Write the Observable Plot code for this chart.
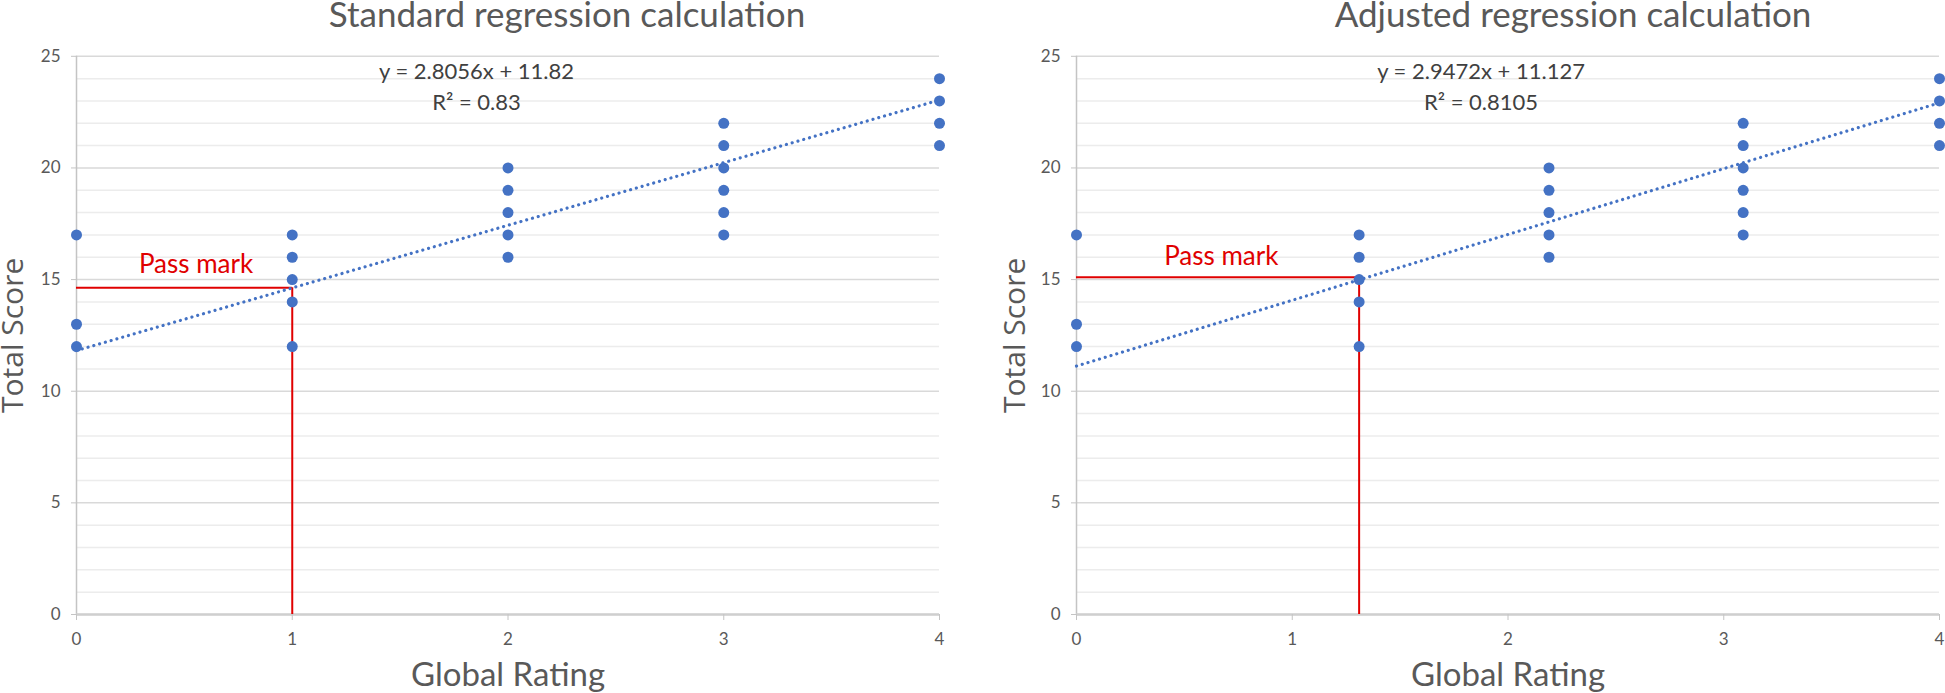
<!DOCTYPE html>
<html><head><meta charset="utf-8">
<script src="https://cdn.jsdelivr.net/npm/d3@7"></script>
<script src="https://cdn.jsdelivr.net/npm/@observablehq/plot@0.6"></script>
<style>
body{margin:0;background:#fff;width:1945px;height:693px;overflow:hidden;position:relative;font-family:Lato,sans-serif}
.panel{position:absolute;top:0;height:693px}
.title{position:absolute;top:0;width:700px;text-align:center;font-family:Lato;font-size:35px;color:#595959;line-height:26px;white-space:nowrap}
.panel svg{position:absolute;top:45px;left:0;overflow:visible}
g[aria-label="y-axis label"] text{font-family:"Open Sans";font-size:30px}
g[aria-label="x-axis label"] text{font-family:Lato;font-size:33px}
</style></head><body>
<div id="p1" class="panel" style="left:0;width:972px"><div class="title" style="left:217px">Standard regression calculation</div></div>
<div id="p2" class="panel" style="left:972px;width:973px"><div class="title" style="left:251px">Adjusted regression calculation</div></div>
<script>
// ---- data ----
const xTicks = [0, 1, 2, 3, 4];
const yMajorTicks = [0, 5, 10, 15, 20, 25];
const yMinorTicks = [1,2,3,4,6,7,8,9,11,12,13,14,16,17,18,19,21,22,23,24];

const standardRating = [0,0,0, 1,1,1,1,1, 2,2,2,2,2, 3,3,3,3,3,3, 4,4,4,4];
const standardScore  = [17,13,12, 17,16,15,14,12, 20,19,18,17,16, 22,21,20,19,18,17, 24,23,22,21];
const adjustedRating = [0,0,0, 1.31,1.31,1.31,1.31,1.31, 2.19,2.19,2.19,2.19,2.19, 3.09,3.09,3.09,3.09,3.09,3.09, 4,4,4,4];
const adjustedScore  = [17,13,12, 17,16,15,14,12, 20,19,18,17,16, 22,21,20,19,18,17, 24,23,22,21];

const standardSlope = 2.8056, standardIntercept = 11.82;
const adjustedSlope = 2.9472, adjustedIntercept = 11.127;
const standardEquation = ["y = 2.8056x + 11.82", "R² = 0.83"];
const adjustedEquation = ["y = 2.9472x + 11.127", "R² = 0.8105"];
const standardPass = {x: 1, y: 14.63};
const adjustedPass = {x: 1.31, y: 15.1};
const passLabel = "Pass mark";

function panel({rating, score, slope, intercept, equation, pass, eqX, passTextX, passTextY, width, marginLeft, marginRight, yLabelOffset}) {
  const pts = rating.map((r, i) => ({x: r, y: score[i]}));
  const trend = [0, 4].map(x => ({x, y: intercept + slope * x}));
  return Plot.plot({
    width, height: 648,
    marginTop: 10.8, marginBottom: 79, marginLeft, marginRight,
    style: {fontFamily: "Lato", color: "#595959", background: "transparent", overflow: "visible"},
    x: {domain: [0, 4]},
    y: {domain: [0, 25]},
    marks: [
      Plot.ruleY(yMinorTicks, {stroke: "#ececec", strokeWidth: 1.5}),
      Plot.ruleY(yMajorTicks, {stroke: "#d9d9d9", strokeWidth: 1.5}),
      Plot.ruleX([0], {stroke: "#c4c4c4", strokeWidth: 1.5}),
      Plot.ruleY([0], {stroke: "#cfcfcf", strokeWidth: 2.5}),
      Plot.axisY({ticks: yMajorTicks, tickSize: 5, tickPadding: 11, stroke: "#c4c4c4", fontSize: 17,
        label: "Total Score", labelAnchor: "center", labelArrow: "none", labelOffset: yLabelOffset}),
      Plot.axisX({ticks: xTicks, tickFormat: "d", tickSize: 6, tickPadding: 12, stroke: "#c4c4c4", fontSize: 17,
        label: "Global Rating", labelAnchor: "center", labelArrow: "none", labelOffset: 71}),
      Plot.ruleY([pass], {y: "y", x1: 0, x2: "x", stroke: "#e00000", strokeWidth: 2}),
      Plot.ruleX([pass], {x: "x", y1: 0, y2: "y", stroke: "#e00000", strokeWidth: 2}),
      Plot.line(trend, {x: "x", y: "y", stroke: "#4472c4", strokeWidth: 3.2, strokeDasharray: "0.01 6", strokeLinecap: "round"}),
      Plot.dot(pts, {x: "x", y: "y", r: 5.5, fill: "#4472c4", stroke: null}),
      Plot.text([equation[0]], {x: eqX, y: 24.32, fontSize: 22, fill: "#404040", fontFamily: "Lato"}),
      Plot.text([equation[1]], {x: eqX, y: 22.91, fontSize: 22, fill: "#404040", fontFamily: "Lato"}),
      Plot.text([passLabel], {x: passTextX, y: passTextY, fontSize: 26, fill: "#e00000", fontFamily: "Lato"})
    ]
  });
}

document.getElementById("p1").append(panel({
  rating: standardRating, score: standardScore, slope: standardSlope, intercept: standardIntercept,
  equation: standardEquation, pass: standardPass, eqX: 1.854, passTextX: 0.554, passTextY: 15.68,
  width: 972, marginLeft: 76, marginRight: 33, yLabelOffset: 75
}));
document.getElementById("p2").append(panel({
  rating: adjustedRating, score: adjustedScore, slope: adjustedSlope, intercept: adjustedIntercept,
  equation: adjustedEquation, pass: adjustedPass, eqX: 1.875, passTextX: 0.671, passTextY: 16.01,
  width: 973, marginLeft: 104, marginRight: 6, yLabelOffset: 73
}));
</script>
</body></html>
